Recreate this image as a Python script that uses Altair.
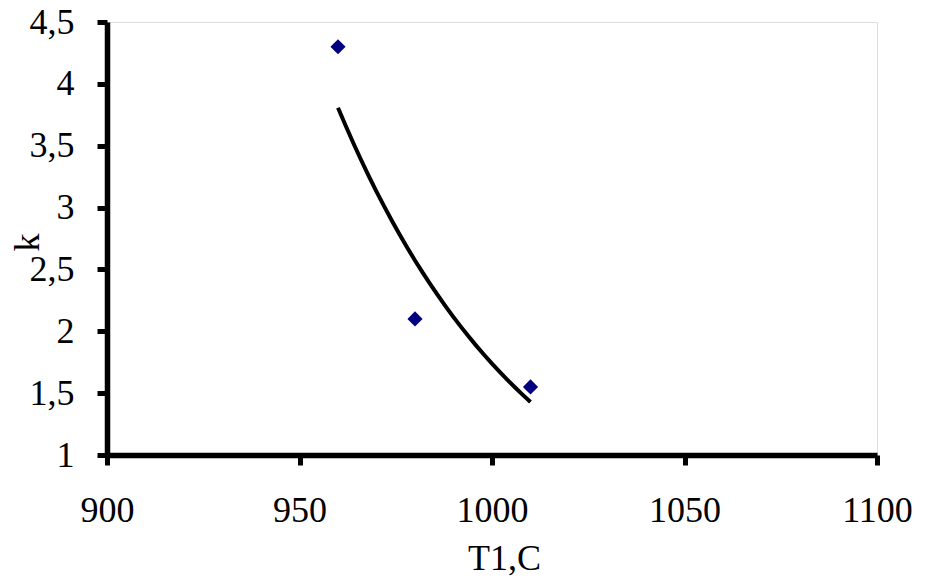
import altair as alt
import pandas as pd

# Data
t_values = [960, 980, 1010]
k_values = [4.3, 2.1, 1.55]

x_ticks = [900, 950, 1000, 1050, 1100]
y_ticks = [1, 1.5, 2, 2.5, 3, 3.5, 4, 4.5]

df = pd.DataFrame({"T": t_values, "k": k_values})

FONT = "Liberation Serif"

x_scale = alt.Scale(domain=[900, 1100], nice=False, zero=False)
y_scale = alt.Scale(domain=[1, 4.5], nice=False, zero=False)

x_axis = alt.Axis(
    values=x_ticks, title="T1,C", grid=False, format="d",
    labelFont=FONT, labelFontSize=36, labelColor="black",
    labelPadding=28, tickSize=10, tickWidth=5, tickColor="black",
    domainColor="black", domainWidth=5.5,
    titleFont=FONT, titleFontSize=36, titleFontWeight="normal", titleColor="black",
    titleX=397, titleY=114, titleBaseline="alphabetic", titleAlign="center",
    labelFlush=False, labelOverlap=False,
)
y_axis = alt.Axis(
    values=y_ticks, title="k", grid=False,
    labelExpr="replace(toString(datum.value), '.', ',')",
    labelFont=FONT, labelFontSize=36, labelColor="black",
    labelPadding=23, tickSize=10, tickWidth=5, tickColor="black",
    domainColor="black", domainWidth=5.5,
    titleFont=FONT, titleFontSize=36, titleFontWeight="normal", titleColor="black",
    titleAngle=270, titleX=-80, titleY=220, titleAlign="center", titleBaseline="middle",
    labelFlush=False, labelOverlap=False,
)

base = alt.Chart(df)

points = base.mark_point(shape="diamond", filled=True, size=230, color="#000080", opacity=1).encode(
    x=alt.X("T:Q", scale=x_scale, axis=x_axis),
    y=alt.Y("k:Q", scale=y_scale, axis=y_axis),
)

trend = base.transform_calculate(
    lnk="log(datum.k)"
).transform_regression(
    "T", "lnk", method="poly", order=1
).transform_calculate(
    k="exp(datum.lnk)"
).mark_line(color="black", strokeWidth=4).encode(
    x=alt.X("T:Q", scale=x_scale),
    y=alt.Y("k:Q", scale=y_scale),
)

chart = alt.layer(trend, points).properties(
    width=770, height=433,
    autosize=alt.AutoSizeParams(type="none"),
    padding={"left": 107, "top": 22, "right": 50, "bottom": 130},
).configure_view(stroke=None).configure(background="white")

chart.save("out.html", embed_options={"renderer": "svg", "actions": False})
